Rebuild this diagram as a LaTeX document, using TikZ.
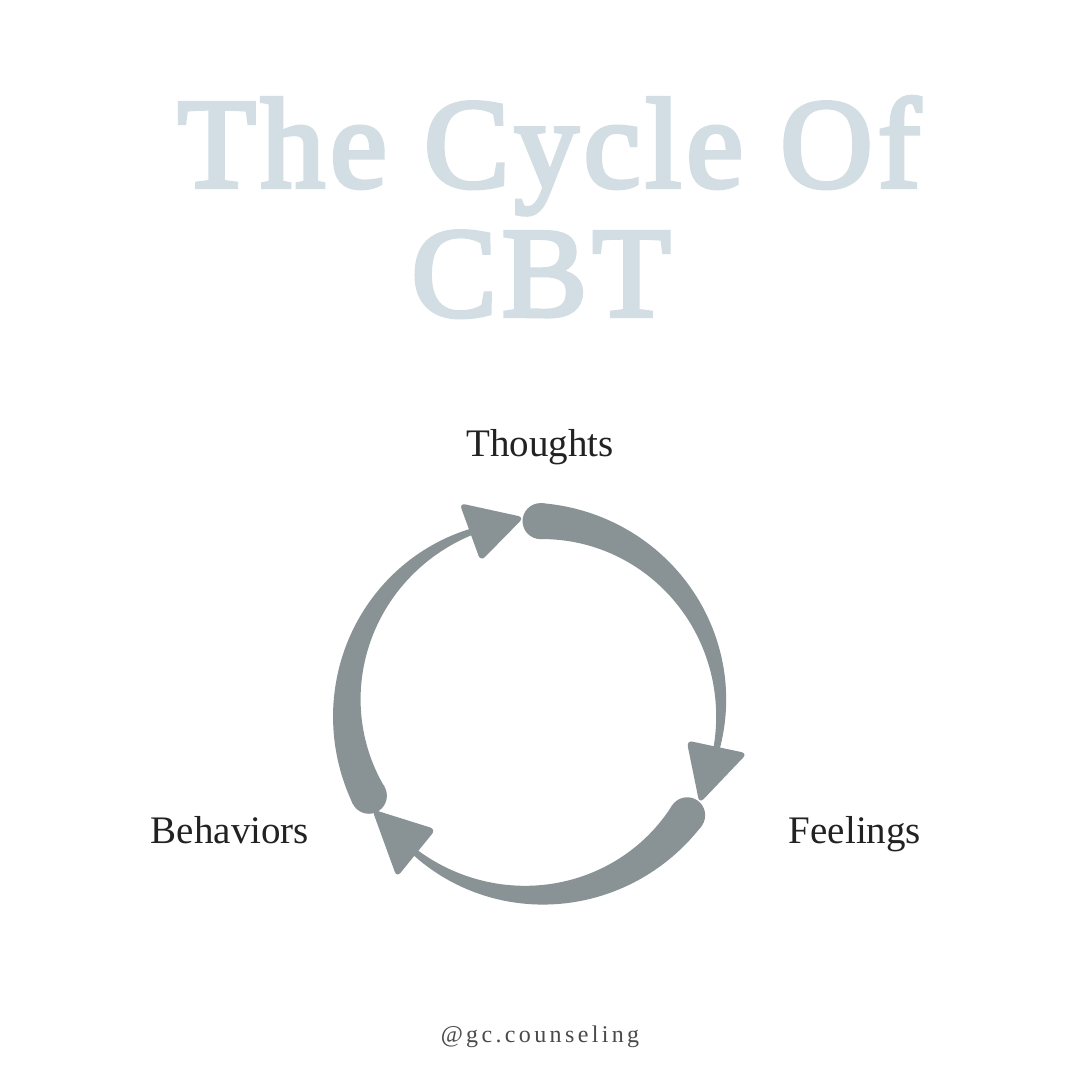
\documentclass[tikz,border=0pt]{standalone}
\usepackage{fontspec}
\setmainfont{Liberation Serif}
\newfontfamily\titlefont[FakeBold=3.4, LetterSpace=4]{Liberation Serif}
\definecolor{titlecol}{HTML}{D2DEE3}
\definecolor{arrowcol}{HTML}{899396}
\definecolor{labelcol}{HTML}{222222}
\definecolor{footcol}{HTML}{4A4A4A}
\tikzset{
  titletext/.style={anchor=base, inner sep=0pt, text=titlecol, font=\fontsize{128}{128}\titlefont},
  labeltext/.style={anchor=base, inner sep=0pt, text=labelcol, font=\fontsize{39}{39}\selectfont},
  foottext/.style={anchor=base, inner sep=0pt, text=footcol, font=\fontsize{24}{24}\selectfont\addfontfeature{LetterSpace=14}},
  headtri/.style={fill=arrowcol, rounded corners=6pt},
}
% tapered arrow: #1 tail angle, #2 base angle, #3 tip angle
\newcommand{\cycarrow}[3]{%
  \fill[arrowcol] plot[domain=0:1, samples=60] ({#1+(#2-4-(#1))*\x}:{187+(36-31*\x)/2})
     -- plot[domain=1:0, samples=60] ({#1+(#2-4-(#1))*\x}:{187-(36-31*\x)/2}) -- cycle;
  \fill[arrowcol] (#1:187) circle[radius=18];
  \fill[headtri] (#2+1:156) -- (#2+1:218) -- (#3-2:191) -- cycle;
}
\begin{document}
\begin{tikzpicture}[x=1pt,y=1pt]
\fill[white] (0,0) rectangle (1080,1080);
\useasboundingbox (0,0) rectangle (1080,1080);
\node[titletext] (t1) at (549,893) {The Cycle Of};
\node[titletext] (t2) at (541,764) {CBT};
\node[labeltext] (th) at (540,623) {Thoughts};
\node[labeltext] (be) at (230,236) {Behaviors};
\node[labeltext] (fe) at (855,236) {Feelings};
\node[foottext] (ft) at (540,37) {@gc.counseling};
\begin{scope}[shift={(534,372)}]
  \cycarrow{88}{-13}{-28}
  \cycarrow{-35}{-130}{-146}
  \cycarrow{208}{109}{95}
\end{scope}
\end{tikzpicture}
\end{document}
